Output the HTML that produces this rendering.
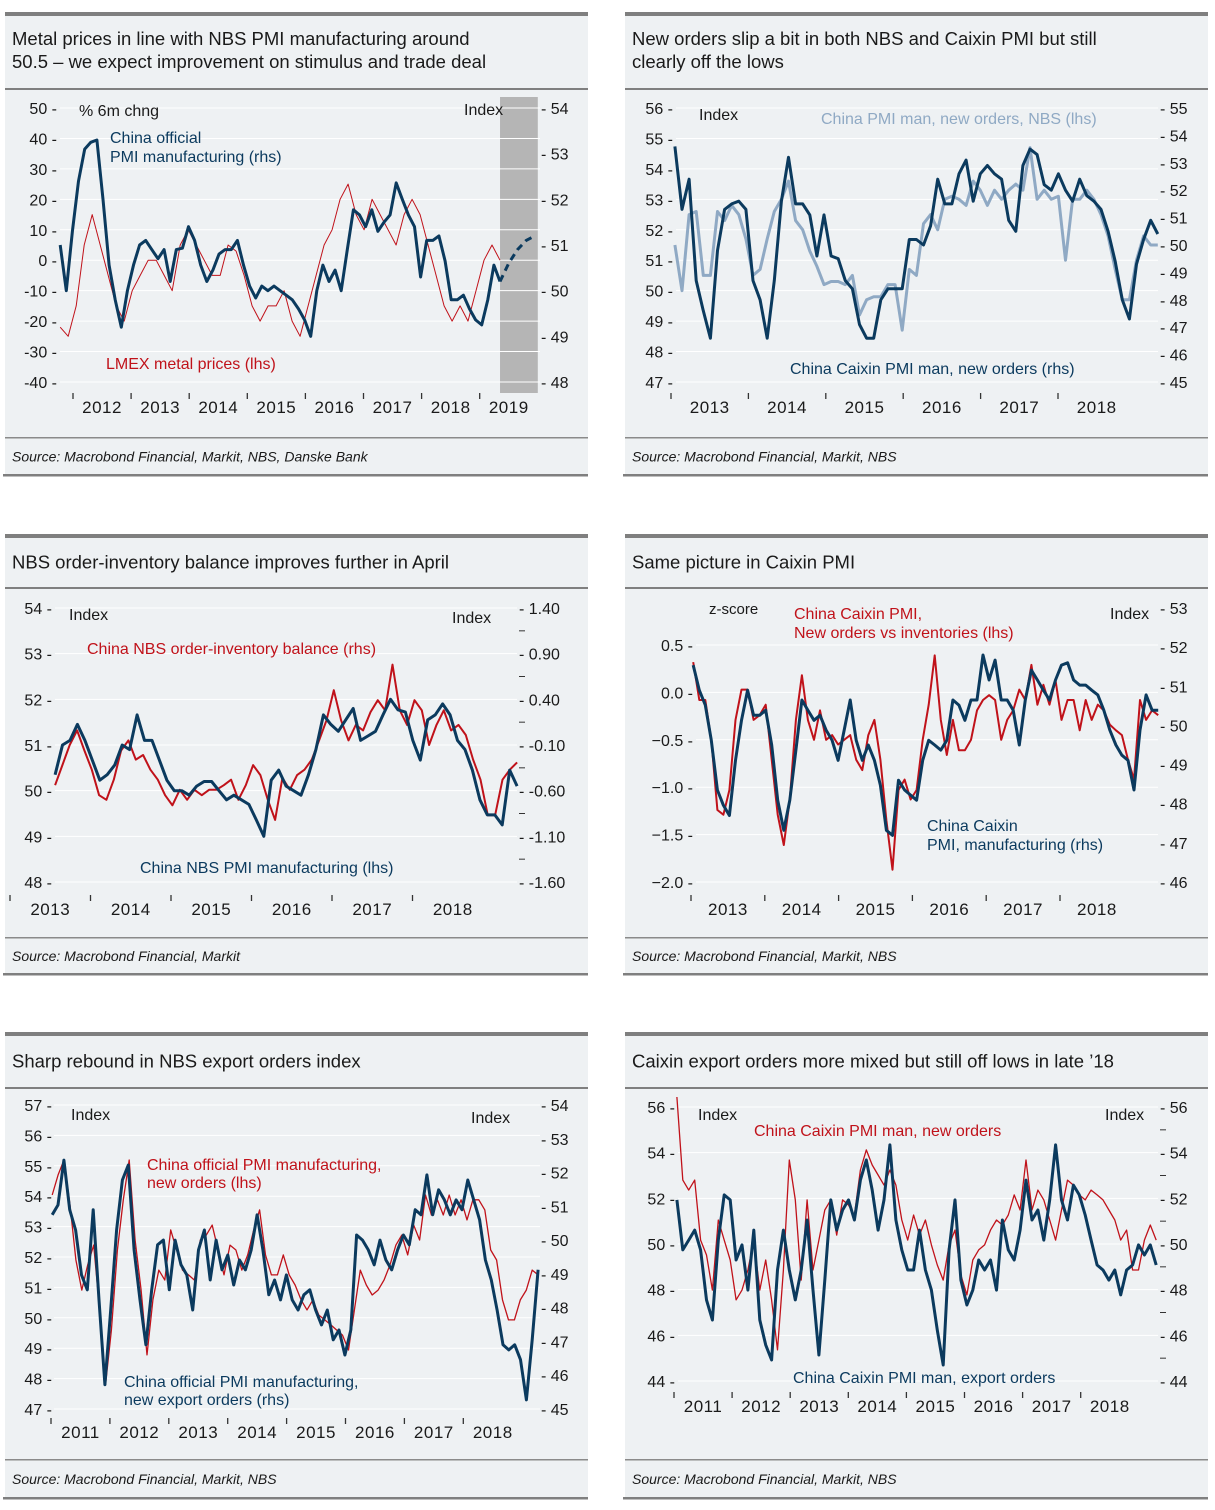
<!DOCTYPE html>
<html><head><meta charset="utf-8">
<style>
html,body{margin:0;padding:0;background:#fff;}
svg text{font-family:"Liberation Sans",sans-serif;}
</style></head>
<body>
<svg id="page" width="1215" height="1505" viewBox="0 0 1215 1505" xmlns="http://www.w3.org/2000/svg"></svg>
<script>
// ---------- DATA ----------
const p1Years = [2012,2013,2014,2015,2016,2017,2018,2019];
const p1LeftTicks = [50,40,30,20,10,0,-10,-20,-30,-40];
const p1RightTicks = [54,53,52,51,50,49,48];
const p1Lmex = [-22,-25,-15,5,15,5,-5,-15,-20,-10,-5,0,0,-5,-10,5,10,5,0,-5,-5,5,3,-5,-15,-20,-15,-15,-10,-20,-25,-15,-5,5,10,20,25,15,10,20,15,10,5,15,20,15,5,-5,-15,-20,-15,-20,-10,0,5,0];
const p1Pmi = [51.0,50.0,51.3,52.4,53.1,53.25,53.3,52.0,50.56,49.8,49.2,50.0,50.56,51.0,51.1,50.9,50.7,50.9,50.2,50.9,50.93,51.4,51.1,50.56,50.2,50.45,50.8,50.9,50.9,51.1,50.56,50.1,49.84,50.1,50.0,50.1,50.0,49.9,49.8,49.6,49.36,49.0,50.0,50.56,50.2,50.45,50.0,50.9,51.77,51.66,51.4,51.77,51.3,51.5,51.66,52.36,52.0,51.66,51.4,50.3,51.1,51.1,51.2,50.65,49.8,49.8,49.9,49.6,49.36,49.25,49.8,50.56,50.2];
const p1Forecast = [50.2,50.6,50.9,51.1,51.2];

const p2Years = [2013,2014,2015,2016,2017,2018];
const p2LeftTicks = [56,55,54,53,52,51,50,49,48,47];
const p2RightTicks = [55,54,53,52,51,50,49,48,47,46,45];
const p2Caixin = [53.6,51.3,52.4,48.7,47.6,46.6,49.8,51.3,51.5,51.6,51.3,48.7,48.0,46.6,48.7,51.6,53.2,51.5,51.5,51.1,49.6,51.1,49.6,49.5,48.7,48.4,47.1,46.6,46.6,48.0,48.4,48.4,48.4,50.2,50.2,50.0,50.7,52.4,51.5,51.5,52.6,53.1,51.6,52.6,52.9,52.6,52.4,50.9,50.5,52.9,53.5,53.3,52.2,52.0,52.6,52.0,51.6,52.4,51.8,51.6,51.3,50.5,49.4,48.0,47.3,49.3,50.2,50.9,50.4];
const p2Nbs = [51.5,50.0,52.5,52.6,50.5,50.5,52.6,52.3,52.8,52.5,51.7,50.5,50.7,51.7,52.6,53.0,53.6,52.3,52.0,51.3,50.8,50.2,50.3,50.3,50.2,50.5,49.2,49.7,49.8,49.8,50.2,50.2,48.7,50.7,50.5,52.2,52.5,52.0,53.0,53.1,53.0,52.8,53.6,53.3,52.8,53.3,53.0,53.3,53.5,53.3,54.7,53.0,53.3,53.0,53.1,51.0,53.0,53.0,53.3,53.0,52.5,51.8,50.7,49.7,49.7,51.0,51.8,51.5,51.5];

const p3Years = [2013,2014,2015,2016,2017,2018];
const p3LeftTicks = [54,53,52,51,50,49,48];
const p3RightTicks = [1.40,0.90,0.40,-0.10,-0.60,-1.10,-1.60];
const p3Pmi = [50.35,51.0,51.1,51.45,51.1,50.67,50.23,50.35,50.56,51.0,50.9,51.66,51.1,51.1,50.67,50.23,50.0,50.0,49.9,50.1,50.2,50.2,50.0,49.8,49.9,49.8,49.7,49.36,49.0,50.23,50.45,50.1,50.0,49.9,50.35,50.9,51.66,51.45,51.3,51.55,51.8,51.1,51.2,51.3,51.66,52.0,51.77,51.72,51.1,50.67,51.55,51.66,51.9,51.66,51.1,50.9,50.45,49.8,49.47,49.47,49.25,50.45,50.1];
const p3Balance = [-0.54,-0.32,-0.10,0.06,-0.16,-0.37,-0.65,-0.70,-0.48,-0.16,-0.05,-0.26,-0.21,-0.37,-0.48,-0.65,-0.76,-0.59,-0.70,-0.59,-0.65,-0.59,-0.59,-0.54,-0.48,-0.70,-0.54,-0.32,-0.43,-0.70,-0.92,-0.46,-0.59,-0.43,-0.37,-0.26,-0.05,0.17,0.50,0.17,-0.05,0.12,0.06,0.26,0.39,0.28,0.78,0.28,0.12,0.39,0.28,-0.10,0.12,0.28,0.06,0.12,0.01,-0.26,-0.48,-0.87,-0.87,-0.48,-0.37,-0.29];

const p4Years = [2013,2014,2015,2016,2017,2018];
const p4LeftTicks = [0.5,0.0,-0.5,-1.0,-1.5,-2.0];
const p4LeftLabels = ["0.5","0.0","\u22120.5","\u22121.0","\u22121.5","\u22122.0"];
const p4RightTicks = [53,52,51,50,49,48,47,46];
const p4Pmi = [51.54,50.9,50.52,49.62,48.35,47.96,47.7,49.11,50.13,50.9,50.26,50.26,50.39,49.5,48.09,47.32,48.09,49.37,50.65,50.39,50.13,50.26,49.88,49.62,49.11,49.88,50.65,49.62,49.11,49.5,49.11,48.47,47.32,47.19,48.6,48.35,48.22,48.09,49.11,49.62,49.5,49.37,49.62,50.65,50.52,50.13,50.65,50.65,51.8,51.16,51.67,50.65,50.65,50.39,49.5,50.65,51.41,51.16,50.9,50.65,51.16,51.54,51.6,51.16,51.03,51.03,50.9,50.78,50.39,49.88,49.5,49.24,49.11,48.35,49.88,50.78,50.39,50.39];
const p4Zscore = [0.32,-0.08,-0.08,-0.5,-1.24,-1.29,-1.03,-0.29,0.03,0.03,-0.29,-0.24,-0.13,-0.71,-1.29,-1.61,-1.13,-0.29,0.18,-0.29,-0.5,-0.19,-0.5,-0.45,-0.55,-0.5,-0.45,-0.71,-0.82,-0.45,-0.29,-0.71,-1.35,-1.87,-1.03,-0.92,-1.13,-1.03,-0.5,-0.13,0.39,-0.29,-0.66,-0.29,-0.61,-0.61,-0.5,-0.19,-0.08,-0.03,-0.08,-0.5,-0.29,-0.19,0.03,-0.08,0.29,-0.13,0.08,-0.13,0.13,-0.29,-0.08,-0.08,-0.4,-0.08,-0.29,-0.13,-0.19,-0.34,-0.4,-0.45,-0.71,-0.92,-0.08,-0.29,-0.19,-0.24];

const p5Years = [2011,2012,2013,2014,2015,2016,2017,2018];
const p5LeftTicks = [57,56,55,54,53,52,51,50,49,48,47];
const p5RightTicks = [54,53,52,51,50,49,48,47,46,45];
const p5Export = [50.75,51.04,52.37,50.9,50.3,48.97,48.53,50.9,48.23,45.72,47.93,50.3,51.78,52.22,49.71,48.23,46.9,48.53,49.86,50.0,48.53,50.0,49.27,48.97,47.93,49.71,50.3,48.82,50.0,49.12,49.56,48.67,49.41,49.12,49.71,50.75,49.71,48.38,48.82,48.23,48.97,48.23,47.93,48.38,48.53,47.93,47.49,47.93,47.05,47.34,46.6,47.34,50.15,50.0,49.71,49.27,50.0,49.41,49.12,49.71,50.15,49.86,50.9,50.75,51.93,50.75,51.49,51.19,50.75,51.19,50.9,51.78,51.19,50.6,49.41,48.82,47.93,46.9,46.75,46.9,46.46,45.27,47.05,49.12];
const p5NewOrders = [54.04,54.7,55.19,53.71,51.9,50.91,51.74,52.39,50.26,47.79,49.6,52.23,53.88,55.19,52.56,50.91,48.78,50.59,51.57,51.24,52.89,52.23,51.57,51.41,51.24,52.56,52.72,53.05,52.23,51.41,52.39,52.23,51.57,52.07,52.89,53.55,52.07,51.41,51.41,52.07,51.41,51.08,50.59,50.26,50.59,50.09,49.93,49.77,49.6,49.43,48.94,50.26,51.57,51.08,50.75,50.91,51.24,51.74,52.39,52.72,52.07,53.05,52.56,54.04,53.38,53.88,53.38,54.04,53.38,53.88,53.22,53.88,53.88,53.55,52.23,51.9,50.59,49.93,49.93,50.59,50.91,51.57,51.41];

const p6Years = [2011,2012,2013,2014,2015,2016,2017,2018];
const p6LeftTicks = [56,54,52,50,48,46,44];
const p6RightTicks = [56,54,52,50,48,46,44];
const p6Export = [51.93,49.74,50.17,50.61,49.74,47.55,46.67,50.17,52.15,51.93,49.3,49.96,47.98,50.61,46.67,45.58,44.92,48.86,50.61,48.86,47.55,48.86,51.05,47.98,45.14,48.42,51.93,50.61,51.49,51.93,51.05,52.8,53.68,52.36,50.61,51.93,54.34,51.05,49.74,48.86,48.86,50.61,48.86,47.98,46.23,44.7,49.74,51.93,48.42,47.33,47.98,49.3,48.86,49.3,47.98,51.05,49.74,49.3,50.61,52.8,51.05,51.49,50.17,51.93,54.34,51.93,51.05,52.58,52.15,51.27,50.17,49.08,48.86,48.42,48.86,47.77,48.86,49.08,49.96,49.52,49.96,49.08];
const p6NewOrders = [56.44,52.8,52.36,52.8,50.17,49.52,47.98,51.05,50.17,49.3,47.55,47.98,48.86,50.17,47.98,49.3,47.55,45.36,48.86,53.68,51.93,48.42,51.93,48.86,50.17,51.49,51.93,50.39,51.93,51.71,51.27,53.24,54.12,53.46,53.02,52.58,53.24,52.58,51.05,50.17,51.27,50.39,51.05,49.96,49.08,48.42,49.96,50.61,48.64,47.77,49.3,49.74,49.96,50.61,51.05,50.83,51.27,52.15,51.49,53.68,51.49,52.36,51.93,51.05,50.17,51.49,52.8,52.58,52.15,51.93,52.36,52.15,51.93,51.49,51.05,50.17,50.61,48.86,48.86,50.17,50.83,50.17];

// ---------- RENDER ----------
const NS = "http://www.w3.org/2000/svg";
const svg = document.getElementById('page');
const NAVY = "#0b3a5e", RED = "#c0121a", LIGHT = "#8fa9c4", TXT = "#1a1a1a";
function el(tag, attrs, parent){ const e=document.createElementNS(NS,tag); for(const k in attrs) e.setAttribute(k,attrs[k]); (parent||svg).appendChild(e); return e; }
function txt(s, x, y, attrs, parent){ const t=el('text',Object.assign({x:x,y:y,fill:TXT,'font-size':16},attrs||{}),parent); t.textContent=s; return t; }
function lin(v0,p0,v1,p1){ return v => p0 + (v - v0) * (p1 - p0) / (v1 - v0); }

function panel(name, x, top, hdr, src, bot, titleLines, source){
  const g = el('g',{});
  
  
  const w = 583;
  el('rect',{x:x,y:top,width:w,height:bot-top,fill:"#eef1f3"},g);
  el('rect',{x:x,y:top,width:w,height:4,fill:"#7f7f7f"},g);
  el('rect',{x:x,y:hdr,width:w,height:2,fill:"#7f7f7f"},g);
  el('rect',{x:x,y:src,width:w,height:1.5,fill:"#8a8a8a"},g);
  el('rect',{x:x-2,y:bot,width:w+2,height:2.5,fill:"#7f7f7f"},g);
  const ttl = el('g',{},g);
  
  
  titleLines.forEach((l,i)=>{
    const n = titleLines.length;
    const base = n===1 ? (top+hdr)/2+8 : top+33+i*23;
    txt(l, x+7, base, {'font-size':18.5}, ttl);
  });
  const s = txt(source, x+7, (src+bot)/2+6, {'font-size':14,'font-style':'italic'}, g);
  
  
  return g;
}

function axes(g, cfg){
  const la = el('g',{},g);
  
  
  cfg.lt.forEach((v,i)=>{
    const y = cfg.yl(v);
    el('line',{x1:cfg.px0,x2:cfg.px1,y1:y,y2:y,stroke:"#ffffff",'stroke-width':1},g);
    txt((cfg.ll?cfg.ll[i]:String(v))+" -", cfg.lx, y+6, {'font-size':16,'text-anchor':'end'}, la);
  });
  const ra = el('g',{},g);
  
  
  cfg.rt.forEach(v=>{
    const y = cfg.yr(v);
    const lab = cfg.rfmt ? cfg.rfmt(v) : String(v);
    txt("- "+lab, cfg.rx, y+6, {'font-size':16}, ra);
  });
  if (cfg.rminor) cfg.rminor.forEach(v=>{ const y=cfg.yr(v); el('line',{x1:cfg.rx,x2:cfg.rx+6,y1:y,y2:y,stroke:"#333",'stroke-width':1},ra); });
  const xa = el('g',{},g);
  
  
  cfg.years.forEach(yr=>{
    const xt = cfg.xs(yr);
    el('line',{x1:xt,x2:xt,y1:cfg.tickY,y2:cfg.tickY+6,stroke:"#333",'stroke-width':1.3},xa);
    txt(String(yr), cfg.xs(yr+0.5), cfg.tickY+20, {'font-size':17,'text-anchor':'middle','letter-spacing':'0.5'}, xa);
  });
}

function series(g, name, vals, t0, t1, xs, ys, color, width, dash){
  const step = (t1 - t0) / (vals.length - 1);
  const d = vals.map((v,i)=> (i?'L':'M') + xs(t0 + i*step).toFixed(1) + ',' + ys(v).toFixed(1)).join(' ');
  const p = el('path',{d:d,fill:'none',stroke:color,'stroke-width':width,'stroke-linejoin':'round'},g);
  if (dash) p.setAttribute('stroke-dasharray', dash);
  
  
}

// ---- Panel 1 ----
(function(){
  const g = panel('panel-metal-prices',5,12,88,437,474,["Metal prices in line with NBS PMI manufacturing around","50.5 \u2013 we expect improvement on stimulus and trade deal"],"Source: Macrobond Financial, Markit, NBS, Danske Bank");
  const xs = lin(2012,73,2013,131.1);
  const yl = lin(50,108,-40,382), yr = lin(54,108,48,382);
  const sh = el('rect',{x:xs(2019.35),y:97,width:xs(2020)-xs(2019.35),height:296,fill:'#b5b5b5'},g);
  
  
  axes(g,{lt:p1LeftTicks,rt:p1RightTicks,yl:yl,yr:yr,lx:57,rx:541,px0:60,px1:540,years:p1Years,xs:xs,tickY:393});
  series(g,'lmex-metal-prices-line',p1Lmex,2011.78,2019.35,xs,yl,RED,1,null);
  series(g,'pmi-manufacturing-line',p1Pmi,2011.78,2019.35,xs,yr,NAVY,3,null);
  series(g,'pmi-forecast-line',p1Forecast,2019.35,2019.95,xs,yr,NAVY,3,'7,5');
  txt("% 6m chng",79,116,{'font-size':16});
  txt("Index",464,115,{'font-size':16});
  txt("China official",110,143,{'font-size':16,fill:NAVY});
  txt("PMI manufacturing (rhs)",110,162,{'font-size':16,fill:NAVY});
  txt("LMEX metal prices (lhs)",106,369,{'font-size':16,fill:RED});
})();

// ---- Panel 2 ----
(function(){
  const g = panel('panel-new-orders',625,12,88,437,474,["New orders slip a bit in both NBS and  Caixin PMI but still","clearly off the lows"],"Source: Macrobond Financial, Markit, NBS");
  const xs = lin(2013,671,2014,748.4);
  const yl = lin(56,108,47,382), yr = lin(55,108,45,382);
  axes(g,{lt:p2LeftTicks,rt:p2RightTicks,yl:yl,yr:yr,lx:673,rx:1160,px0:676,px1:1158,years:p2Years,xs:xs,tickY:393});
  series(g,'nbs-new-orders-line',p2Nbs,2013.05,2019.29,xs,yl,LIGHT,3,null);
  series(g,'caixin-new-orders-line',p2Caixin,2013.05,2019.29,xs,yr,NAVY,3,null);
  txt("Index",699,120,{'font-size':16});
  txt("China PMI man, new orders, NBS (lhs)",821,124,{'font-size':16,fill:LIGHT});
  txt("China Caixin PMI man, new orders (rhs)",790,374,{'font-size':16,fill:NAVY});
})();

// ---- Panel 3 ----
(function(){
  const g = panel('panel-order-inventory',5,534,587,937,973,["NBS order-inventory balance improves further in April"],"Source: Macrobond Financial, Markit");
  const xs = lin(2015,171,2016,251.5);
  const yl = lin(54,608,48,882), yr = lin(1.40,608,-1.60,882);
  axes(g,{lt:p3LeftTicks,rt:p3RightTicks,yl:yl,yr:yr,lx:52,rx:519,px0:55,px1:517,years:p3Years,xs:xs,tickY:895,rfmt:v=>v.toFixed(2),rminor:[1.15,0.65,0.15,-0.35,-0.85,-1.35]});
  series(g,'order-inventory-balance-line',p3Balance,2013.56,2019.3,xs,yr,RED,2,null);
  series(g,'nbs-pmi-line',p3Pmi,2013.56,2019.3,xs,yl,NAVY,3,null);
  txt("Index",69,620,{'font-size':16});
  txt("Index",452,623,{'font-size':16});
  txt("China NBS order-inventory balance (rhs)",87,654,{'font-size':16,fill:RED});
  txt("China NBS PMI manufacturing (lhs)",140,873,{'font-size':16,fill:NAVY});
})();

// ---- Panel 4 ----
(function(){
  const g = panel('panel-caixin-picture',625,534,587,937,973,["Same picture in Caixin PMI"],"Source: Macrobond Financial, Markit, NBS");
  const xs = lin(2013,691,2014,764.8);
  const yl = lin(0.5,645,-2.0,882), yr = lin(53,608,46,882);
  axes(g,{lt:p4LeftTicks,ll:p4LeftLabels,rt:p4RightTicks,yl:yl,yr:yr,lx:693,rx:1160,px0:696,px1:1158,years:p4Years,xs:xs,tickY:895});
  series(g,'caixin-orders-vs-inventories-line',p4Zscore,2013.03,2019.33,xs,yl,RED,2,null);
  series(g,'caixin-pmi-line',p4Pmi,2013.03,2019.33,xs,yr,NAVY,3,null);
  txt("z-score",709,614,{'font-size':15});
  txt("Index",1110,619,{'font-size':16});
  txt("China Caixin PMI,",794,619,{'font-size':16,fill:RED});
  txt("New orders vs inventories (lhs)",794,638,{'font-size':16,fill:RED});
  txt("China Caixin",927,831,{'font-size':16,fill:NAVY});
  txt("PMI, manufacturing (rhs)",927,850,{'font-size':16,fill:NAVY});
})();

// ---- Panel 5 ----
(function(){
  const g = panel('panel-nbs-export-orders',5,1032,1087,1459,1497,["Sharp rebound in NBS export orders index"],"Source: Macrobond Financial, Markit, NBS");
  const xs = lin(2011,51,2012,109.9);
  const yl = lin(57,1105,47,1409), yr = lin(54,1105,45,1409);
  axes(g,{lt:p5LeftTicks,rt:p5RightTicks,yl:yl,yr:yr,lx:52,rx:541,px0:54,px1:540,years:p5Years,xs:xs,tickY:1418});
  series(g,'nbs-new-orders-line',p5NewOrders,2011.02,2019.27,xs,yl,RED,1.3,null);
  series(g,'nbs-export-orders-line',p5Export,2011.02,2019.27,xs,yr,NAVY,3,null);
  txt("Index",71,1120,{'font-size':16});
  txt("Index",471,1123,{'font-size':16});
  txt("China official PMI manufacturing,",147,1170,{'font-size':16,fill:RED});
  txt("new orders (lhs)",147,1188,{'font-size':16,fill:RED});
  txt("China official PMI manufacturing,",124,1387,{'font-size':16,fill:NAVY});
  txt("new export orders (rhs)",124,1405,{'font-size':16,fill:NAVY});
})();

// ---- Panel 6 ----
(function(){
  const g = panel('panel-caixin-export-orders',625,1032,1087,1459,1497,["Caixin export orders more mixed but still off lows in late \u201918"],"Source: Macrobond Financial, Markit, NBS");
  const xs = lin(2011,674,2012,732.1);
  const yl = lin(56,1107,44,1381), yr = lin(56,1107,44,1381);
  axes(g,{lt:p6LeftTicks,rt:p6RightTicks,yl:yl,yr:yr,lx:675,rx:1160,px0:678,px1:1158,years:p6Years,xs:xs,tickY:1392,rminor:[55,53,51,49,47,45]});
  series(g,'caixin-new-orders-line',p6NewOrders,2011.05,2019.3,xs,yl,RED,1.3,null);
  series(g,'caixin-export-orders-line',p6Export,2011.05,2019.3,xs,yr,NAVY,3,null);
  txt("Index",698,1120,{'font-size':16});
  txt("Index",1105,1120,{'font-size':16});
  txt("China Caixin PMI man, new orders",754,1136,{'font-size':16,fill:RED});
  txt("China Caixin PMI man, export orders",793,1383,{'font-size':16,fill:NAVY});
})();
</script>
</body></html>
